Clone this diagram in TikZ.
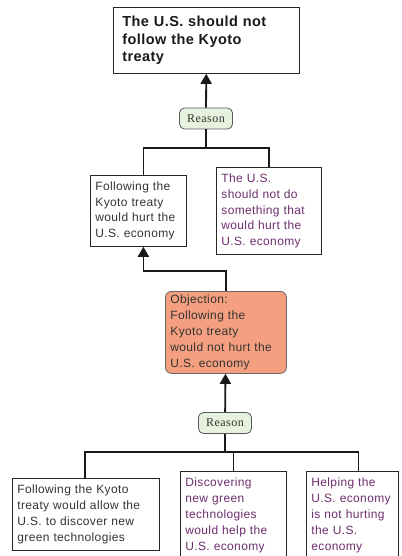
\documentclass[tikz,border=0pt]{standalone}
\usepackage{fontspec}
\setmainfont{Liberation Sans}[LetterSpace=3]
\newfontfamily\reasonfont{Liberation Serif}[LetterSpace=4]
\usetikzlibrary{arrows.meta}
\definecolor{darktext}{HTML}{333333}
\definecolor{purpletext}{HTML}{6E2D6E}
\definecolor{objfill}{HTML}{F4A080}
\definecolor{reasonfill}{HTML}{E6F2DE}
\begin{document}
\begin{tikzpicture}
		[x=1pt,y=-1pt,
		claim/.style={draw=black!85,line width=0.8pt,anchor=north west,align=left,inner xsep=5pt,inner ysep=3pt,
			font=\fontsize{12}{15.8}\selectfont,text=darktext},
		premise/.style={claim,text=purpletext},
		reason/.style={draw=black!65,line width=0.8pt,rounded corners=5pt,fill=reasonfill,minimum width=53pt,
			minimum height=21pt,inner sep=1pt,font=\reasonfont\fontsize{12}{13}\selectfont,text=black!80},
		link/.style={line width=1.8pt,black!90},
		arrowlink/.style={link,-{Triangle[width=11pt,length=10pt]}}]
		\useasboundingbox (0,0) rectangle (401,556);
		\clip (0,0) rectangle (401,556);
		% main claim
		\node[claim,name=top,minimum width=186pt,minimum height=66pt,text width=168pt,inner xsep=9pt,
			font=\fontsize{14.5}{17.5}\bfseries,text=black!90] at (113,7)
			{The U.S. should not\\follow the Kyoto\\treaty};
		\node[reason,name=reason1] at (206,118.5) {Reason};
		% first level
		\node[claim,name=left2,minimum width=96pt,minimum height=71pt,text width=86pt] at (90,175)
			{Following the\\Kyoto treaty\\would hurt the\\U.S. economy};
		\node[premise,name=right2,minimum width=105pt,minimum height=87pt,text width=95pt] at (216,167)
			{The U.S.\\should not do\\something that\\would hurt the\\U.S. economy};
		% objection
		\node[claim,name=objection,fill=objfill,draw=black!60,rounded corners=6pt,minimum width=121pt,
			minimum height=82pt,text width=111pt] at (165,291)
			{Objection:\\Following the\\Kyoto treaty\\would not hurt the\\U.S. economy};
		\node[reason,name=reason2] at (225,423) {Reason};
		% second level
		\node[claim,name=boxA,minimum width=147pt,minimum height=72pt,text width=137pt] at (12,478)
			{Following the Kyoto\\treaty would allow the\\U.S. to discover new\\green technologies};
		\node[premise,name=boxB,minimum width=106pt,minimum height=88pt,text width=96pt] at (180,471)
			{Discovering\\new green\\technologies\\would help the\\U.S. economy};
		\node[premise,name=boxC,minimum width=92pt,minimum height=88pt,text width=82pt] at (306,471)
			{Helping the\\U.S. economy\\is not hurting\\the U.S.\\economy};
		% connectors
		\draw[arrowlink] (reason1) -- (top);
		\draw[link] (reason1.south) -- ++(0,19) coordinate (j1);
		\draw[link] (j1) -| ([xshift=5pt]left2.north);
		\draw[link] (j1) -| (right2.north);
		\draw[arrowlink] (objection.north) -- ++(0,-20) -| ([xshift=5pt]left2.south);
		\draw[arrowlink] (reason2) -- (objection);
		\draw[link] (reason2.south) -- ++(0,18) coordinate (j2);
		\foreach \b/\s in {boxA/-1,boxB/0,boxC/6}
		{
			\draw[link] (j2) -| ([xshift=\s pt]\b.north);
		}
	\end{tikzpicture}
\end{document}
